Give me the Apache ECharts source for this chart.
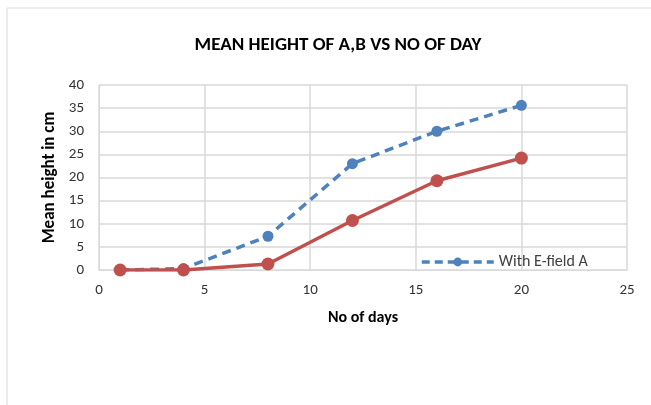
<!DOCTYPE html>
<html>
<head>
<meta charset="utf-8">
<script src="https://cdn.jsdelivr.net/npm/echarts@6/dist/echarts.min.js"></script>
<style>
  html, body { margin: 0; padding: 0; background: #fff; }
  #chart { width: 651px; height: 405px; }
</style>
</head>
<body>
<div id="chart"></div>
<script>
// days on the x axis
const days = [1, 4, 8, 12, 16, 20];
// mean height in cm
const withFieldA = [0, 0.3, 7.3, 23, 30, 35.6];
const withFieldB = [0, 0, 1.3, 10.7, 19.3, 24.2];

const chart = echarts.init(document.getElementById('chart'));
const font = 'Calibri, Carlito, "Open Sans", "Liberation Sans", sans-serif';

const option = {
  animation: false,
  textStyle: { fontFamily: font },
  graphic: [{
    type: 'rect',
    shape: { x: 7, y: 8, width: 660, height: 420 },
    style: { fill: 'none', stroke: '#d9d9d9', lineWidth: 1 },
    silent: true
  }],
  title: {
    text: 'MEAN HEIGHT OF A,B VS NO OF DAY',
    left: 333,
    textAlign: 'center',
    top: 31,
    textStyle: { fontSize: 19, fontWeight: 'bold', color: '#000', fontFamily: font }
  },
  legend: {
    data: ['With E-field A'],
    left: 415,
    top: 249,
    itemWidth: 72,
    itemHeight: 11,
    itemGap: 5,
    lineStyle: { width: 3.5, type: [8, 5] },
    textStyle: { fontSize: 16, color: '#404040', fontFamily: font }
  },
  grid: { left: 99, right: 24, top: 85, bottom: 135 },
  xAxis: {
    type: 'value',
    min: 0, max: 25, interval: 5,
    name: 'No of days',
    nameLocation: 'middle',
    nameGap: 40,
    nameTextStyle: { fontWeight: 'bold', fontSize: 16, color: '#000' },
    axisLine: { show: true, lineStyle: { color: '#d9d9d9' } },
    axisTick: { show: false },
    axisLabel: { fontSize: 15, color: '#333', margin: 13 },
    splitLine: { show: true, lineStyle: { color: '#d9d9d9', width: 1.5 } }
  },
  yAxis: {
    type: 'value',
    min: 0, max: 40, interval: 5,
    name: 'Mean height in cm',
    nameLocation: 'middle',
    nameGap: 37,
    nameTextStyle: { fontWeight: 'bold', fontSize: 17, color: '#000' },
    axisLine: { show: true, lineStyle: { color: '#d9d9d9' } },
    axisTick: { show: false },
    axisLabel: { fontSize: 15, color: '#333', margin: 15 },
    splitLine: { show: true, lineStyle: { color: '#d9d9d9', width: 1.5 } }
  },
  series: [
    {
      name: 'With E-field A',
      type: 'line',
      data: days.map((d, i) => [d, withFieldA[i]]),
      symbol: 'circle',
      symbolSize: 11,
      itemStyle: { color: '#4f81bd' },
      lineStyle: { color: '#4f81bd', width: 3.5, type: [9, 6] },
      z: 3
    },
    {
      name: 'With E-field B',
      type: 'line',
      data: days.map((d, i) => [d, withFieldB[i]]),
      symbol: 'circle',
      symbolSize: 13,
      itemStyle: { color: '#c0504d' },
      lineStyle: { color: '#c0504d', width: 3.5 },
      z: 4
    }
  ]
};
chart.setOption(option);
</script>
</body>
</html>
